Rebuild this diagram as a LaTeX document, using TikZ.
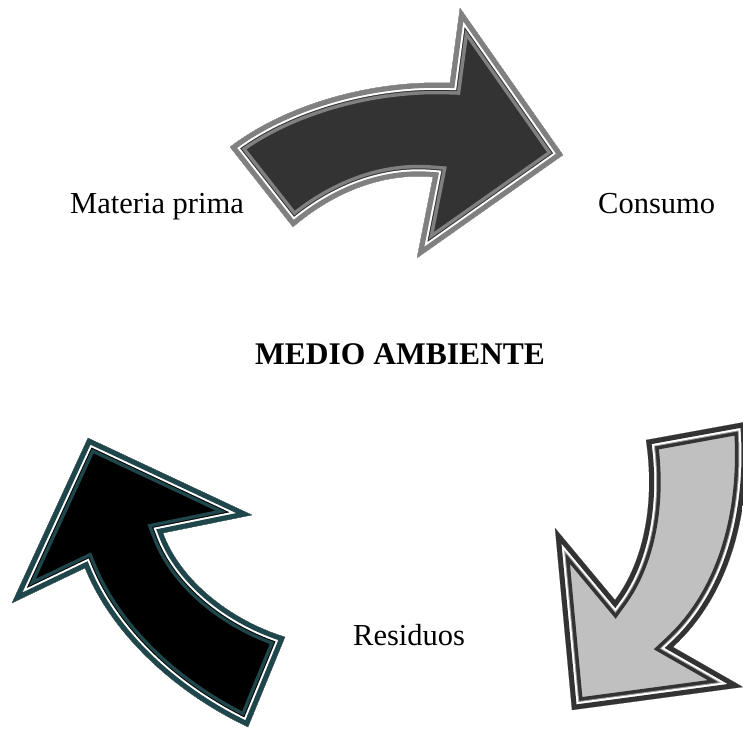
\documentclass[tikz,border=0pt]{standalone}
\usepackage{fontspec}
\setmainfont{Liberation Serif}
\definecolor{ggray}{HTML}{808080}
\definecolor{dgray}{HTML}{333333}
\definecolor{lgray}{HTML}{C0C0C0}
\definecolor{mgray}{HTML}{9A9A9A}
\definecolor{tealdk}{HTML}{1F474B}
\def\arrowTop{(230,147) .. controls (285,105) and (370,80) .. (450,83) -- (460,8) -- (563,155) -- (417,258) -- (433,177) .. controls (380,172) and (330,195) .. (293,227) -- cycle}
\def\arrowRight{(646,440) -- (745,422) .. controls (752,500) and (735,590) .. (673,647) -- (743,687) -- (572,710) -- (555,528) -- (615,600) .. controls (645,560) and (655,500) .. (646,440) -- cycle}
\def\arrowLeft{(88,438) -- (252,515) -- (163,533) .. controls (180,580) and (230,620) .. (285,637) -- (248,727) .. controls (170,690) and (110,630) .. (85,568) -- (12,603) -- cycle}
% #1 path, #2 fill, #3 outer band, #4 white line, #5 thin line, #6 inner band
\newcommand\layeredarrow[6]{%
  \begin{scope}
    \clip #1;
    \fill[#2] #1;
    \draw[#6, line width=23] #1;
    \draw[#5, line width=16] #1;
    \draw[#4, line width=14] #1;
    \draw[#3, line width=10] #1;
  \end{scope}}
\tikzset{lbl/.style={inner sep=0pt, anchor=base west, font=\fontsize{30.5}{36}\selectfont}}
\begin{document}
\begin{tikzpicture}[x=1pt, y=-1pt]
  \clip (0,0) rectangle (743,732);
  \layeredarrow{\arrowTop}{dgray}{ggray}{white}{dgray}{ggray}
  \layeredarrow{\arrowRight}{lgray}{dgray}{white}{mgray}{dgray}
  \layeredarrow{\arrowLeft}{black}{tealdk}{white}{black}{tealdk}
  \node[lbl] (mp) at (70,213) {Materia prima};
  \node[lbl] (co) at (598,213) {Consumo};
  \node[lbl, font=\fontsize{31.5}{36}\selectfont\bfseries] (ma) at (255,364) {MEDIO AMBIENTE};
  \node[lbl] (re) at (353,645) {Residuos};
\end{tikzpicture}
\end{document}
